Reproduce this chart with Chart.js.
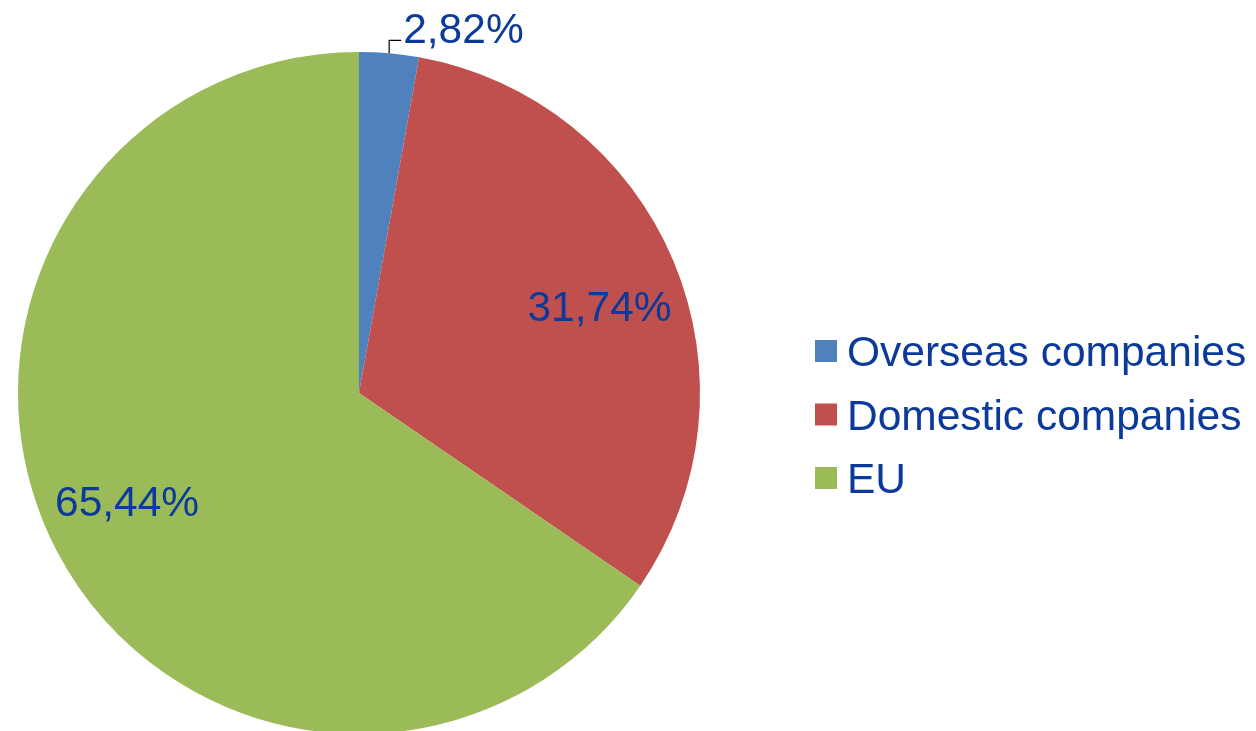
<!DOCTYPE html>
<html>
<head>
<meta charset="utf-8">
<script src="https://cdn.jsdelivr.net/npm/chart.js@4/dist/chart.umd.min.js"></script>
<style>
  html, body { margin: 0; padding: 0; background: #fff; }
  #wrap { width: 1256px; height: 731px; overflow: hidden; }
</style>
</head>
<body>
<div id="wrap"><canvas id="share" width="1256" height="740"></canvas></div>
<script>
const categories = ['Overseas companies', 'Domestic companies', 'EU'];
const shares = [2.82, 31.74, 65.44];
const sliceColors = ['#4F81BD', '#C0504D', '#9BBB59'];

const textColor = '#0C3A9A';
const font = '42.5px "Liberation Sans", Arial, sans-serif';

function fmt(v) {
  return v.toFixed(2).replace('.', ',') + '%';
}

// percentage labels; the small slice gets an outside label with a leader line
const sliceLabels = {
  id: 'sliceLabels',
  afterDatasetsDraw(chart) {
    const ctx = chart.ctx;
    const arcs = chart.getDatasetMeta(0).data;
    ctx.save();
    ctx.font = font;
    ctx.fillStyle = textColor;
    arcs.forEach((arc, i) => {
      const mid = (arc.startAngle + arc.endAngle) / 2;
      const r = arc.outerRadius;
      if (shares[i] < 5) {
        const px = arc.x + Math.cos(mid) * r;
        const py = arc.y + Math.sin(mid) * r;
        ctx.strokeStyle = '#000';
        ctx.lineWidth = 1.2;
        ctx.beginPath();
        ctx.moveTo(px, py);
        ctx.lineTo(px, py - 13);
        ctx.lineTo(px + 12, py - 13);
        ctx.stroke();
        ctx.textAlign = 'left';
        ctx.textBaseline = 'alphabetic';
        ctx.fillText(fmt(shares[i]), px + 14, py - 10);
      } else {
        // best-fit position, nudged a little clockwise like the original
        const a = mid + 0.05;
        const lx = arc.x + Math.cos(a) * r * 0.75;
        const ly = arc.y + Math.sin(a) * r * 0.75;
        ctx.textAlign = 'center';
        ctx.textBaseline = 'alphabetic';
        ctx.fillText(fmt(shares[i]), lx, ly + 15);
      }
    });
    ctx.restore();
  }
};

// legend drawn on the right side
const sideLegend = {
  id: 'sideLegend',
  afterDraw(chart) {
    const ctx = chart.ctx;
    ctx.save();
    ctx.font = font;
    ctx.textAlign = 'left';
    ctx.textBaseline = 'alphabetic';
    categories.forEach((name, i) => {
      const cy = 351 + i * 63.5;
      ctx.fillStyle = sliceColors[i];
      ctx.fillRect(815, cy - 11, 22, 22);
      ctx.fillStyle = textColor;
      ctx.fillText(name, 847, cy + 15);
    });
    ctx.restore();
  }
};

new Chart(document.getElementById('share').getContext('2d'), {
  type: 'pie',
  data: {
    labels: categories,
    datasets: [{
      data: shares,
      backgroundColor: sliceColors,
      borderWidth: 0
    }]
  },
  options: {
    responsive: false,
    animation: false,
    layout: { padding: { left: 18, right: 556, top: 52, bottom: 6 } },
    plugins: {
      legend: { display: false },
      tooltip: { enabled: false }
    }
  },
  plugins: [sliceLabels, sideLegend]
});
</script>
</body>
</html>
